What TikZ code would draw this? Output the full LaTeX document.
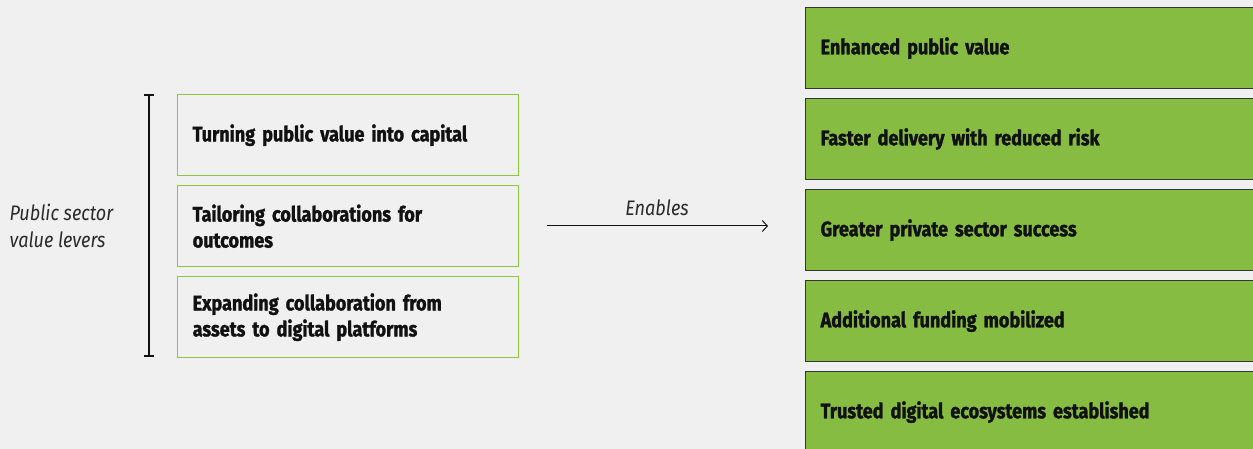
\documentclass[tikz,border=0pt]{standalone}
\usepackage{fontspec}
\setmainfont{Fira Sans}[FakeStretch=0.86, WordSpace=0.5, BoldFeatures={FakeBold=1.4}]
\newfontfamily\labelfont{Fira Sans}[FakeStretch=0.86]
\usetikzlibrary{arrows.meta}
\definecolor{bg}{HTML}{F0F0F0}
\definecolor{lgreen}{HTML}{8DC63F}
\definecolor{fgreen}{HTML}{86BC42}
\definecolor{ink}{HTML}{111111}
\tikzset{
  lever/.style={draw=lgreen, line width=1.4pt, fill=none, anchor=north west,
    minimum width=341pt, minimum height=81pt, inner xsep=15pt, text width=311pt,
    align=left, font=\fontsize{21}{26}\selectfont\bfseries, text=ink},
  outcome/.style={draw=ink!85, line width=1.2pt, fill=fgreen, anchor=north west,
    minimum width=460pt, minimum height=81pt, inner xsep=15pt, text width=430pt,
    align=left, font=\fontsize{21}{26}\selectfont\bfseries, text=ink},
  itlabel/.style={font=\labelfont\fontsize{21}{27}\selectfont\itshape, text=ink!90, align=left}
}
\begin{document}
\begin{tikzpicture}[x=1pt,y=-1pt]
\fill[bg] (0,0) rectangle (1253,449);
\useasboundingbox (0,0) rectangle (1253,449);
% left levers
\node[lever] (l1) at (177,94) {Turning public value into capital};
\node[lever] (l2) at (177,185) {Tailoring collaborations for\\outcomes};
\node[lever] (l3) at (177,276) {Expanding collaboration from\\assets to digital platforms};
% bracket
\draw[line width=1.2pt, ink] (149,95) -- (149,356);
\draw[line width=1.2pt, ink] (144,95) -- (154,95);
\draw[line width=1.2pt, ink] (144,356) -- (154,356);
\node[itlabel, anchor=west] (lab) at (6,226) {Public sector\\value levers};
% arrow
\coordinate (a1) at (547,226);
\coordinate (a2) at (768,226);
\draw[line width=1pt, ink, -{Straight Barb[length=5pt,width=11pt]}] (a1) -- (a2);
\node[itlabel, anchor=south] (en) at (657,219) {Enables};
% outcomes
\node[outcome] (o1) at (805,7) {Enhanced public value};
\node[outcome] (o2) at (805,98) {Faster delivery with reduced risk};
\node[outcome] (o3) at (805,189) {Greater private sector success};
\node[outcome] (o4) at (805,280) {Additional funding mobilized};
\node[outcome] (o5) at (805,371) {Trusted digital ecosystems established};
\end{tikzpicture}
\end{document}
